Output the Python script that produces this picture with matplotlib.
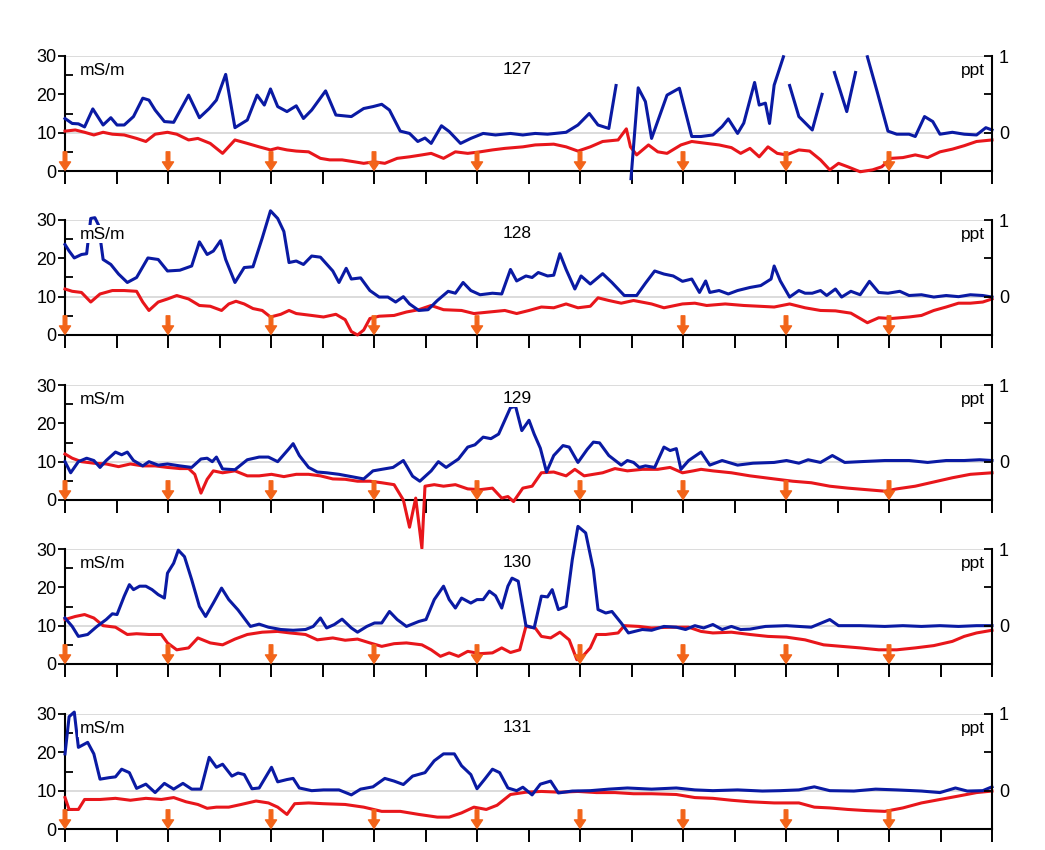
#!/usr/bin/env python3
"""
Five EM profiles (127-131): two conductivity traces in mS/m with a ppt scale on the right.
"""

import matplotlib.pyplot as plt
from matplotlib.ticker import FixedLocator
import numpy as np

plt.rcParams['font.family'] = ['Liberation Sans', 'DejaVu Sans']

nan = np.nan

BLUE = '#0a1aa3'
RED = '#e8161b'
ORANGE = '#f26419'

profiles = ['127', '128', '129', '130', '131']

# distance along profile in tick units (0..18), values in mS/m
p127_blue_x = [0, 0.14, 0.26, 0.38, 0.54, 0.74, 0.89, 1.01, 1.15, 1.33, 1.51, 1.63, 1.75, 1.93, 2.11,
               2.40, 2.61, 2.80, 2.94, 3.12, 3.30, 3.54, 3.73, 3.87, 3.99, 4.13, 4.31, 4.49, 4.63, 4.79,
               5.06, 5.26, 5.56, 5.80, 5.98, 6.15, 6.30, 6.51, 6.69, 6.85, 6.99, 7.11, 7.31, 7.46, 7.68,
               7.88, 8.12, 8.36, 8.65, 8.89, 9.13, 9.37, 9.73, 9.96, 10.18, 10.35, 10.56, 10.70, 10.85,
               10.99, 11.13, 11.27, 11.39, 11.69, 11.93, 12.17, 12.35, 12.58, 12.76, 12.88, 13.06, 13.18,
               13.39, 13.48, 13.60, 13.68, 13.77, 13.95, 14.01, 14.07, 14.25, 14.51, 14.70, 14.82, 14.94,
               15.18, 15.35, 15.46, 15.58, 15.77, 15.98, 16.15, 16.39, 16.51, 16.69, 16.85, 16.99, 17.23,
               17.46, 17.70, 17.88, 18.0]
p127_blue = [13.7, 12.4, 12.3, 11.5, 16.2, 12.0, 13.9, 12.0, 12.0, 14.2, 19.0, 18.5, 15.9, 12.9, 12.7,
             19.8, 13.9, 16.3, 18.5, 25.2, 11.3, 13.3, 19.8, 17.2, 21.4, 16.8, 15.5, 17.0, 13.7, 15.9,
             20.9, 14.6, 14.2, 16.3, 16.8, 17.4, 15.9, 10.4, 9.8, 7.7, 8.6, 7.2, 11.8, 10.3, 7.2,
             8.5, 9.8, 9.4, 9.8, 9.4, 9.8, 9.6, 10.1, 12.0, 15.0, 12.0, 11.1, 22.3, nan,
             -2.0, 21.7, 18.1, 8.5, 19.8, 21.6, 9.0, 9.0, 9.4, 11.6, 13.6, 9.8, 12.5,
             23.1, 17.2, 17.7, 12.4, 22.4, 29.8, nan, 22.3, 14.2, 10.7, 20.0, nan, 25.7,
             15.5, 25.7, nan, 29.8, 20.7, 10.4, 9.6, 9.6, 9.0, 14.2, 12.9, 9.6, 10.1,
             9.6, 9.4, 11.3, 10.7]
p127_red_x = [0, 0.20, 0.38, 0.56, 0.74, 0.92, 1.15, 1.39, 1.57, 1.75, 1.99, 2.17, 2.40, 2.58, 2.82,
              3.06, 3.30, 3.54, 3.77, 3.99, 4.13, 4.31, 4.49, 4.73, 4.96, 5.14, 5.38, 5.62, 5.80, 6.00,
              6.21, 6.45, 6.69, 6.93, 7.11, 7.35, 7.58, 7.82, 8.06, 8.30, 8.54, 8.89, 9.13, 9.49, 9.73,
              9.96, 10.20, 10.44, 10.74, 10.90, 10.98, 11.10, 11.33, 11.51, 11.69, 11.96, 12.17, 12.46,
              12.70, 12.94, 13.12, 13.30, 13.48, 13.65, 13.83, 14.01, 14.25, 14.46, 14.67, 14.85, 15.02,
              15.20, 15.44, 15.68, 15.86, 16.04, 16.27, 16.51, 16.75, 16.99, 17.23, 17.46, 17.70, 18.0]
p127_red = [10.4, 10.7, 10.1, 9.4, 10.1, 9.6, 9.4, 8.5, 7.7, 9.6, 10.1, 9.6, 8.1, 8.5, 7.2,
            4.6, 8.1, 7.2, 6.3, 5.5, 6.0, 5.5, 5.2, 5.0, 3.3, 2.9, 2.9, 2.4, 2.0, 2.4,
            2.0, 3.3, 3.7, 4.2, 4.6, 3.3, 5.0, 4.6, 5.0, 5.5, 5.9, 6.3, 6.8, 7.0, 6.3,
            5.2, 6.3, 7.7, 8.1, 11.0, 6.3, 4.2, 6.8, 5.0, 4.6, 6.8, 7.7, 7.2,
            6.8, 6.1, 4.6, 5.9, 3.7, 6.3, 4.6, 4.2, 5.5, 5.2, 2.9, 0.3, 2.0,
            1.1, -0.2, 0.3, 1.1, 3.3, 3.5, 4.2, 3.5, 5.0, 5.7, 6.6, 7.7, 8.1]

p128_blue_x = [0, 0.08, 0.18, 0.32, 0.42, 0.50, 0.58, 0.65, 0.74, 0.89, 1.04, 1.21, 1.39, 1.61, 1.81,
               1.99, 2.23, 2.46, 2.61, 2.76, 2.88, 3.02, 3.12, 3.30, 3.48, 3.65, 3.83, 3.99, 4.13, 4.25,
               4.35, 4.49, 4.63, 4.79, 4.96, 5.20, 5.32, 5.46, 5.56, 5.74, 5.92, 6.10, 6.27, 6.42, 6.57,
               6.69, 6.87, 7.05, 7.23, 7.44, 7.58, 7.73, 7.88, 8.06, 8.30, 8.48, 8.65, 8.77, 8.95, 9.07,
               9.19, 9.37, 9.49, 9.61, 9.73, 9.90, 10.02, 10.20, 10.44, 10.62, 10.86, 11.10, 11.27, 11.45,
               11.63, 11.81, 11.99, 12.17, 12.32, 12.44, 12.52, 12.70, 12.88, 13.06, 13.30, 13.51, 13.71,
               13.77, 13.89, 14.07, 14.25, 14.37, 14.51, 14.67, 14.79, 14.96, 15.08, 15.26, 15.44, 15.62,
               15.80, 15.98, 16.21, 16.39, 16.63, 16.87, 17.11, 17.35, 17.58, 17.82, 18.0]
p128_blue = [23.6, 21.9, 20.1, 21.0, 21.2, 30.4, 30.6, 28.7, 19.7, 18.4, 15.9, 13.7, 15.0, 20.1, 19.7,
             16.7, 16.9, 18.0, 24.3, 21.0, 21.9, 24.6, 19.7, 13.7, 17.6, 17.8, 25.3, 32.4, 30.4, 27.0,
             18.9, 19.3, 18.4, 20.6, 20.3, 16.7, 13.7, 17.4, 14.6, 14.9, 11.6, 9.9, 9.9, 8.6, 10.0,
             8.1, 6.4, 6.6, 9.0, 11.4, 10.9, 13.7, 11.6, 10.5, 10.9, 10.7, 17.1, 14.1, 15.4, 15.0,
             16.3, 15.4, 15.6, 21.2, 17.1, 12.0, 15.4, 13.3, 16.0, 13.7, 10.3, 10.3, 13.5, 16.7,
             15.9, 15.4, 14.0, 14.6, 11.1, 14.1, 11.1, 11.6, 10.7, 11.6, 12.4, 12.9, 14.6,
             18.0, 14.1, 9.9, 11.6, 10.9, 10.9, 11.6, 10.3, 12.0, 9.9, 11.4, 10.5, 14.0,
             11.1, 10.9, 11.4, 10.3, 10.5, 9.9, 10.3, 10.0, 10.5, 10.3, 9.9]
p128_red_x = [0, 0.14, 0.32, 0.50, 0.68, 0.92, 1.15, 1.39, 1.51, 1.63, 1.81, 1.99, 2.17, 2.40, 2.61,
              2.82, 3.04, 3.18, 3.32, 3.48, 3.65, 3.83, 3.99, 4.19, 4.35, 4.49, 4.79, 5.02, 5.26, 5.44,
              5.56, 5.68, 5.80, 5.92, 6.10, 6.39, 6.63, 6.87, 7.11, 7.35, 7.70, 7.94, 8.24, 8.54, 8.77,
              9.01, 9.25, 9.49, 9.73, 9.96, 10.20, 10.35, 10.56, 10.80, 11.04, 11.39, 11.63, 11.99,
              12.23, 12.46, 12.82, 13.18, 13.48, 13.77, 14.07, 14.37, 14.67, 14.96, 15.26, 15.44,
              15.58, 15.80, 16.04, 16.39, 16.63, 16.87, 17.11, 17.35, 17.58, 17.82, 18.0]
p128_red = [12.0, 11.4, 11.1, 8.6, 10.7, 11.6, 11.6, 11.4, 8.6, 6.4, 8.6, 9.4, 10.3, 9.4, 7.7,
            7.5, 6.4, 8.1, 8.8, 8.1, 6.9, 6.4, 4.7, 5.4, 6.4, 5.6, 5.1, 4.7, 5.4, 4.0,
            0.9, 0.0, 1.3, 4.3, 4.9, 5.1, 6.0, 6.6, 7.7, 6.6, 6.4, 5.6, 6.0, 6.4, 5.6,
            6.4, 7.3, 7.1, 8.1, 7.1, 7.5, 9.7, 9.0, 8.3, 9.0, 8.1, 7.1, 8.1,
            8.3, 7.7, 8.1, 7.7, 7.5, 7.3, 8.1, 7.1, 6.4, 6.3, 5.7, 4.3,
            3.2, 4.5, 4.3, 4.7, 5.1, 6.4, 7.3, 8.3, 8.3, 8.6, 9.4]

p129_blue_x = [0, 0.11, 0.26, 0.42, 0.56, 0.68, 0.80, 0.98, 1.10, 1.21, 1.33, 1.51, 1.63, 1.81, 1.99,
               2.23, 2.46, 2.64, 2.76, 2.86, 2.94, 3.06, 3.30, 3.54, 3.77, 3.95, 4.13, 4.35, 4.43, 4.55,
               4.73, 4.90, 5.08, 5.32, 5.56, 5.80, 5.98, 6.15, 6.37, 6.57, 6.75, 6.89, 7.11, 7.25, 7.40,
               7.64, 7.82, 7.96, 8.12, 8.27, 8.42, 8.54, 8.65, 8.75, 8.87, 9.01, 9.11, 9.23, 9.35, 9.49,
               9.67, 9.79, 9.96, 10.14, 10.26, 10.38, 10.56, 10.80, 10.92, 11.04, 11.15, 11.27, 11.45,
               11.63, 11.75, 11.87, 11.96, 12.11, 12.35, 12.52, 12.76, 13.06, 13.36, 13.77, 14.01,
               14.25, 14.43, 14.67, 14.90, 15.14, 15.44, 15.92, 16.39, 16.75, 17.11, 17.46, 17.76, 18.0]
p129_blue = [10.0, 7.1, 10.0, 10.9, 10.3, 8.5, 10.3, 12.5, 11.8, 12.5, 10.3, 8.9, 10.0, 9.1, 9.4,
             8.9, 8.5, 10.7, 10.9, 10.0, 11.2, 8.1, 7.9, 10.5, 11.2, 11.2, 10.0, 13.4, 14.7, 11.6,
             8.5, 7.3, 7.1, 6.7, 6.1, 5.5, 7.6, 8.0, 8.5, 10.3, 6.2, 4.9, 7.6, 10.0, 8.5,
             10.7, 13.8, 14.4, 16.4, 16.0, 17.2, 20.8, 24.1, 24.4, 18.1, 20.8, 17.2, 13.5, 7.3, 11.6,
             14.2, 13.8, 9.8, 13.2, 15.1, 14.9, 11.6, 9.1, 10.3, 9.8, 8.5, 8.9, 8.5,
             13.8, 12.9, 13.4, 8.0, 10.3, 12.5, 9.1, 10.3, 9.1, 9.6, 9.8, 10.3,
             9.6, 10.5, 9.8, 11.6, 9.8, 10.0, 10.3, 10.3, 9.8, 10.3, 10.3, 10.5, 10.3]
p129_red_x = [0, 0.14, 0.32, 0.56, 0.80, 1.04, 1.27, 1.51, 1.75, 1.99, 2.23, 2.40, 2.52, 2.64, 2.76,
              2.88, 3.06, 3.30, 3.54, 3.77, 4.01, 4.25, 4.49, 4.73, 4.96, 5.20, 5.44, 5.68, 5.92, 6.15,
              6.39, 6.57, 6.69, 6.81, 6.93, 6.99, 7.17, 7.35, 7.58, 7.82, 8.06, 8.30, 8.48, 8.60, 8.71,
              8.89, 9.07, 9.25, 9.49, 9.73, 9.90, 10.08, 10.26, 10.44, 10.68, 10.92, 11.21, 11.51,
              11.75, 11.99, 12.20, 12.35, 12.58, 12.94, 13.30, 13.77, 14.13, 14.49, 14.85, 15.20,
              15.56, 15.92, 16.15, 16.51, 16.87, 17.23, 17.58, 18.0]
p129_red = [12.0, 10.9, 10.0, 9.6, 9.4, 8.7, 9.4, 8.9, 8.9, 8.5, 8.2, 8.2, 6.7, 1.8, 5.4,
            7.6, 7.1, 7.6, 6.3, 6.3, 6.7, 6.1, 6.7, 6.7, 6.3, 5.5, 5.4, 4.9, 4.9, 4.5,
            4.0, 0.0, -7.1, 0.5, -12.6, 3.6, 4.0, 3.6, 4.0, 2.9, 2.7, 3.1, 0.5, 0.9, -0.4,
            3.1, 3.6, 7.1, 7.3, 6.3, 8.0, 6.3, 6.7, 7.1, 8.2, 7.6, 8.0, 8.0,
            8.5, 7.1, 7.6, 8.0, 7.6, 7.1, 6.3, 5.5, 4.9, 4.5, 3.6, 3.1,
            2.7, 2.3, 2.9, 3.6, 4.7, 5.8, 6.7, 7.1]

p130_blue_x = [0, 0.14, 0.26, 0.44, 0.62, 0.80, 0.92, 1.01, 1.15, 1.25, 1.33, 1.45, 1.57, 1.69, 1.81,
               1.93, 1.99, 2.11, 2.20, 2.32, 2.46, 2.61, 2.73, 2.88, 3.04, 3.18, 3.36, 3.60, 3.77, 3.95,
               4.19, 4.43, 4.67, 4.82, 4.96, 5.08, 5.23, 5.38, 5.56, 5.68, 5.86, 6.01, 6.15, 6.30, 6.45,
               6.63, 6.87, 7.01, 7.17, 7.35, 7.46, 7.58, 7.70, 7.88, 8.00, 8.12, 8.24, 8.36, 8.48, 8.60,
               8.68, 8.80, 8.95, 9.11, 9.25, 9.37, 9.46, 9.58, 9.73, 9.85, 9.96, 10.11, 10.26, 10.35,
               10.50, 10.62, 10.80, 10.94, 11.21, 11.39, 11.63, 11.87, 12.05, 12.23, 12.40, 12.58,
               12.76, 12.94, 13.12, 13.30, 13.60, 14.01, 14.49, 14.85, 15.02, 15.44, 15.92, 16.27,
               16.63, 16.99, 17.35, 17.70, 18.0]
p130_blue = [12.0, 9.8, 7.2, 7.7, 9.8, 11.6, 13.1, 12.9, 17.7, 20.7, 19.4, 20.3, 20.3, 19.4, 18.1,
             17.2, 23.7, 26.3, 29.7, 28.0, 22.0, 15.0, 12.4, 15.9, 19.8, 16.8, 14.1, 9.8, 10.4, 9.6,
             9.0, 8.8, 9.0, 9.8, 12.0, 9.4, 10.3, 11.7, 9.4, 8.3, 9.8, 10.7, 10.7, 13.7, 11.6,
             9.8, 11.1, 11.6, 16.8, 20.3, 16.8, 14.6, 17.2, 15.9, 16.8, 16.8, 19.0, 17.8, 14.6, 20.3,
             22.4, 21.6, 10.0, 9.4, 17.7, 17.5, 19.4, 14.2, 15.0, 27.2, 35.9, 34.2, 24.6, 14.2,
             13.3, 13.7, 10.7, 8.1, 9.0, 8.8, 9.8, 9.6, 9.0, 10.0, 9.4, 10.3,
             9.0, 9.8, 9.0, 9.1, 9.8, 10.0, 9.6, 11.6, 10.0, 10.0, 9.8, 10.0,
             9.8, 10.0, 9.8, 10.0, 10.0]
p130_red_x = [0, 0.20, 0.38, 0.56, 0.74, 0.98, 1.21, 1.39, 1.63, 1.87, 1.99, 2.17, 2.40, 2.58, 2.82,
              3.06, 3.30, 3.54, 3.83, 4.13, 4.37, 4.67, 4.90, 5.20, 5.44, 5.68, 5.92, 6.15, 6.39, 6.63,
              6.93, 7.11, 7.29, 7.46, 7.64, 7.82, 8.06, 8.30, 8.48, 8.65, 8.83, 8.95, 9.13, 9.25, 9.43,
              9.61, 9.79, 9.94, 10.08, 10.20, 10.32, 10.50, 10.74, 10.86, 11.15, 11.39, 11.75, 12.11,
              12.35, 12.58, 12.94, 13.30, 13.65, 14.01, 14.37, 14.73, 15.08, 15.44, 15.80, 16.15,
              16.51, 16.87, 17.23, 17.46, 17.70, 18.0]
p130_red = [11.6, 12.4, 12.9, 12.0, 10.0, 9.6, 7.7, 7.9, 7.7, 7.7, 5.5, 3.7, 4.2, 6.8, 5.5,
            5.0, 6.5, 7.7, 8.3, 8.5, 8.1, 7.7, 6.3, 6.8, 6.2, 6.5, 5.5, 4.6, 5.3, 5.5,
            5.0, 3.7, 2.0, 2.9, 2.0, 3.3, 2.7, 2.9, 4.2, 3.0, 3.7, 9.8, 9.4, 7.2, 6.8,
            8.3, 6.3, 1.1, 2.4, 4.2, 7.7, 7.7, 8.1, 10.0, 9.8, 9.4, 9.6, 9.6,
            8.5, 8.1, 8.3, 7.7, 7.2, 7.0, 6.3, 5.0, 4.6, 4.2, 3.7, 3.7,
            4.2, 4.8, 5.9, 7.2, 8.1, 8.8]

p131_blue_x = [0, 0.08, 0.18, 0.26, 0.44, 0.56, 0.68, 0.86, 0.98, 1.10, 1.25, 1.39, 1.57, 1.75, 1.93,
               2.11, 2.29, 2.46, 2.64, 2.80, 2.94, 3.06, 3.24, 3.36, 3.48, 3.63, 3.77, 4.01, 4.13, 4.31,
               4.43, 4.55, 4.79, 5.02, 5.32, 5.56, 5.74, 5.98, 6.21, 6.39, 6.57, 6.75, 6.99, 7.17, 7.35,
               7.56, 7.70, 7.88, 8.00, 8.15, 8.30, 8.44, 8.60, 8.77, 8.89, 9.07, 9.23, 9.43, 9.58, 9.85,
               10.20, 10.56, 10.92, 11.39, 11.87, 12.23, 12.58, 13.06, 13.54, 13.89, 14.25, 14.55, 14.85,
               15.32, 15.74, 16.15, 16.63, 16.99, 17.29, 17.52, 17.82, 18.0]
p131_blue = [19.6, 29.3, 30.5, 21.3, 22.6, 19.6, 13.0, 13.4, 13.6, 15.6, 14.7, 10.6, 11.7, 9.5, 11.9,
             10.4, 11.9, 10.4, 10.4, 18.7, 16.1, 16.9, 13.8, 14.6, 14.2, 10.5, 10.7, 16.1, 12.3, 12.9,
             13.2, 10.7, 10.0, 10.2, 10.2, 8.9, 10.4, 11.0, 13.2, 12.5, 11.6, 13.8, 14.7, 17.8, 19.6,
             19.6, 16.5, 14.2, 10.5, 13.0, 15.6, 14.7, 10.7, 10.0, 10.9, 8.9, 11.7, 12.5, 9.4, 9.9,
             10.0, 10.4, 10.7, 10.4, 10.7, 10.2, 10.0, 10.2, 9.9, 10.0, 10.2, 11.0, 10.0,
             9.9, 10.4, 10.2, 9.9, 9.5, 10.7, 9.9, 10.0, 11.0]
p131_red_x = [0, 0.08, 0.26, 0.38, 0.68, 0.98, 1.27, 1.57, 1.87, 2.11, 2.35, 2.58, 2.76, 2.94, 3.18,
              3.42, 3.71, 3.95, 4.13, 4.31, 4.46, 4.73, 5.02, 5.44, 5.80, 6.15, 6.51, 6.87, 7.23, 7.46,
              7.70, 7.94, 8.18, 8.39, 8.65, 8.95, 9.25, 9.61, 9.96, 10.32, 10.68, 11.04, 11.39, 11.87,
              12.23, 12.58, 12.94, 13.30, 13.77, 14.25, 14.55, 14.85, 15.20, 15.56, 15.92, 16.27,
              16.63, 16.99, 17.35, 17.70, 18.0]
p131_red = [8.2, 5.1, 5.1, 7.7, 7.7, 8.0, 7.5, 8.0, 7.7, 8.2, 7.1, 6.4, 5.4, 5.7, 5.7,
            6.4, 7.3, 6.8, 5.7, 3.8, 6.6, 6.8, 6.6, 6.4, 5.7, 4.6, 4.6, 3.8, 3.1, 3.1,
            4.2, 5.7, 5.1, 6.2, 9.0, 9.6, 9.8, 9.6, 9.8, 9.5, 9.5, 9.2, 9.2, 9.0,
            8.2, 8.0, 7.5, 7.1, 6.8, 6.8, 5.7, 5.5, 5.1, 4.8, 4.6, 5.5,
            6.8, 7.7, 8.6, 9.5, 9.9]

# sample marker positions per profile
arrows_127 = [0, 2, 4, 6, 8, 10, 12, 14, 16]
arrows_128 = [0, 2, 4, 6, 8, 12, 14, 16]
arrows_129 = [0, 2, 4, 6, 8, 10, 12, 14, 16]
arrows_130 = [0, 2, 4, 6, 8, 10, 12, 14, 16]
arrows_131 = [0, 2, 4, 6, 8, 10, 12, 14, 16]

blue_x = [p127_blue_x, p128_blue_x, p129_blue_x, p130_blue_x, p131_blue_x]
blue_y = [p127_blue, p128_blue, p129_blue, p130_blue, p131_blue]
red_x = [p127_red_x, p128_red_x, p129_red_x, p130_red_x, p131_red_x]
red_y = [p127_red, p128_red, p129_red, p130_red, p131_red]
arrows = [arrows_127, arrows_128, arrows_129, arrows_130, arrows_131]

W, H = 1045, 850
fig = plt.figure(figsize=(W / 100, H / 100), dpi=100)

left_px, right_px = 65, 992
tops_px = [56, 220, 385, 549, 714]
panel_h = 115

for i, name in enumerate(profiles):
    rect = [left_px / W, 1 - (tops_px[i] + panel_h) / H, (right_px - left_px) / W, panel_h / H]
    ax = fig.add_axes(rect)
    ax.set_xlim(0, 18)
    ax.set_ylim(0, 30)

    for y in (10, 30):
        ax.axhline(y, color='#d6d6d6', lw=1.2, zorder=1)

    ax.plot(red_x[i], red_y[i], color=RED, lw=2.2, clip_on=False, zorder=3)
    ax.plot(blue_x[i], blue_y[i], color=BLUE, lw=2.2, clip_on=False, zorder=4)

    for xa in arrows[i]:
        ax.annotate('', xy=(xa, 0.2), xytext=(xa, 5.0),
                    arrowprops=dict(facecolor=ORANGE, edgecolor=ORANGE, width=2.6,
                                    headwidth=8, headlength=6, shrink=0),
                    annotation_clip=False, zorder=6)

    tr = ax.get_yaxis_transform()
    box = dict(facecolor='white', edgecolor='none', pad=1)
    ax.text(0.016, 26.3, 'mS/m', transform=tr, ha='left', va='center', fontsize=12.5,
            bbox=box, zorder=5)
    ax.text(0.992, 26.3, 'ppt', transform=tr, ha='right', va='center', fontsize=12.5,
            bbox=box, zorder=5)
    ax.text(0.488, 26.5, name, transform=tr, ha='center', va='center', fontsize=12.5,
            bbox=box, zorder=5)

    for s in ('top', 'right'):
        ax.spines[s].set_visible(False)
    for s in ('left', 'bottom'):
        ax.spines[s].set_linewidth(1.5)
        ax.spines[s].set_color('black')

    ax.set_yticks([0, 10, 20, 30])
    ax.yaxis.set_minor_locator(FixedLocator([5, 15, 25]))
    ax.tick_params(axis='y', which='major', direction='out', length=5, width=1.3,
                   labelsize=13, pad=1)
    ax.tick_params(axis='y', which='minor', direction='in', length=6, width=1.3)
    ax.set_xticks(np.arange(0, 19, 1))
    ax.tick_params(axis='x', which='major', direction='out', length=9, width=1.4,
                   labelbottom=False)

    ax2 = ax.twinx()
    ax2.set_ylim(-0.5, 1)
    for s in ('top', 'left', 'bottom'):
        ax2.spines[s].set_visible(False)
    ax2.spines['right'].set_linewidth(1.5)
    ax2.set_yticks([0, 1])
    ax2.set_yticklabels(['0', '1'])
    ax2.yaxis.set_minor_locator(FixedLocator([0.5]))
    ax2.tick_params(axis='y', which='major', direction='in', length=6, width=1.3,
                    labelsize=13, pad=5)
    ax2.tick_params(axis='y', which='minor', direction='in', length=6, width=1.3)

fig.savefig('out.png', dpi=100, facecolor='white')
